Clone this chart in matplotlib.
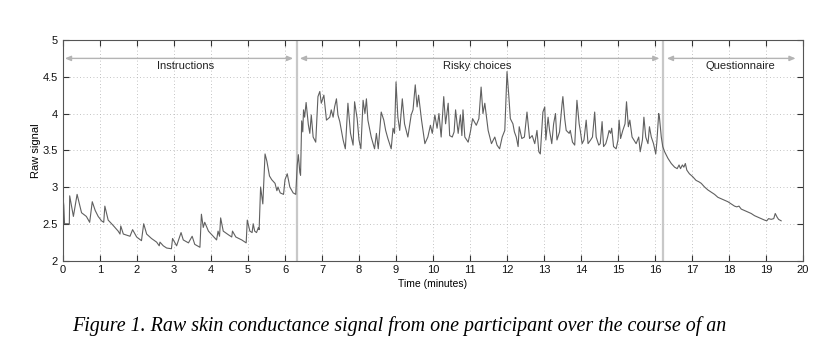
import matplotlib
matplotlib.use("Agg")
import matplotlib.pyplot as plt

# Skin conductance trace (time in minutes, raw signal)
time_min = [
    0.00, 0.02, 0.04, 0.17, 0.18, 0.28, 0.38, 0.50, 0.63, 0.72, 0.79, 0.87, 0.95, 1.04, 1.10, 1.13,
    1.22, 1.35, 1.49, 1.54, 1.56, 1.63, 1.81, 1.88, 1.99, 2.12, 2.18, 2.26, 2.39, 2.53, 2.60, 2.62,
    2.71, 2.80, 2.93, 2.96, 3.07, 3.19, 3.25, 3.39, 3.49, 3.56, 3.70, 3.74, 3.79, 3.83, 3.93, 4.06,
    4.15, 4.19, 4.23, 4.26, 4.33, 4.47, 4.56, 4.58, 4.67, 4.83, 4.95, 4.98, 5.05, 5.11, 5.14, 5.18,
    5.23, 5.28, 5.30, 5.34, 5.40, 5.46, 5.51, 5.58, 5.64, 5.73, 5.78, 5.81, 5.87, 5.96, 6.00, 6.06,
    6.13, 6.22, 6.29, 6.33, 6.36, 6.40, 6.42, 6.45, 6.48, 6.50, 6.53, 6.57, 6.60, 6.63, 6.67, 6.71,
    6.76, 6.83, 6.89, 6.94, 6.98, 7.05, 7.12, 7.21, 7.25, 7.30, 7.34, 7.39, 7.43, 7.48, 7.57, 7.63,
    7.70, 7.77, 7.84, 7.88, 7.95, 8.00, 8.05, 8.11, 8.16, 8.20, 8.24, 8.33, 8.42, 8.47, 8.52, 8.60,
    8.67, 8.72, 8.78, 8.87, 8.92, 8.96, 9.00, 9.05, 9.10, 9.17, 9.23, 9.32, 9.41, 9.46, 9.52, 9.57,
    9.61, 9.69, 9.78, 9.86, 9.93, 9.98, 10.05, 10.11, 10.16, 10.22, 10.29, 10.34, 10.41, 10.45, 10.52, 10.57,
    10.61, 10.68, 10.74, 10.78, 10.81, 10.86, 10.95, 11.01, 11.07, 11.17, 11.24, 11.30, 11.35, 11.40, 11.49, 11.58,
    11.67, 11.73, 11.80, 11.87, 11.94, 12.00, 12.05, 12.09, 12.16, 12.20, 12.25, 12.30, 12.33, 12.40, 12.47, 12.54,
    12.61, 12.68, 12.75, 12.81, 12.86, 12.90, 12.97, 13.02, 13.05, 13.11, 13.15, 13.21, 13.26, 13.31, 13.35, 13.42,
    13.49, 13.51, 13.56, 13.60, 13.68, 13.71, 13.77, 13.83, 13.89, 13.95, 13.98, 14.03, 14.08, 14.14, 14.19, 14.26,
    14.31, 14.37, 14.41, 14.48, 14.52, 14.57, 14.61, 14.67, 14.72, 14.76, 14.80, 14.83, 14.88, 14.95, 15.00, 15.03,
    15.07, 15.13, 15.19, 15.23, 15.28, 15.32, 15.38, 15.43, 15.49, 15.56, 15.60, 15.66, 15.70, 15.75, 15.81, 15.85,
    15.90, 15.96, 16.02, 16.05, 16.10, 16.12, 16.17, 16.21, 16.26, 16.35, 16.44, 16.53, 16.60, 16.65, 16.69, 16.74,
    16.78, 16.82, 16.86, 16.93, 17.02, 17.11, 17.19, 17.25, 17.34, 17.43, 17.52, 17.61, 17.70, 17.79, 17.88, 17.97,
    18.06, 18.15, 18.21, 18.27, 18.33, 18.42, 18.51, 18.60, 18.69, 18.78, 18.87, 18.96, 19.02, 19.07, 19.14, 19.21,
    19.25, 19.30, 19.34, 19.41,
]
raw_signal = [
    2.85, 2.75, 2.50, 2.50, 2.88, 2.60, 2.90, 2.65, 2.60, 2.52, 2.80, 2.68, 2.60, 2.54, 2.52, 2.74,
    2.55, 2.48, 2.40, 2.36, 2.47, 2.36, 2.33, 2.42, 2.32, 2.27, 2.50, 2.36, 2.30, 2.25, 2.20, 2.25,
    2.20, 2.17, 2.16, 2.30, 2.20, 2.38, 2.28, 2.24, 2.33, 2.22, 2.18, 2.63, 2.45, 2.52, 2.40, 2.33,
    2.28, 2.40, 2.33, 2.58, 2.40, 2.35, 2.32, 2.40, 2.32, 2.28, 2.24, 2.55, 2.40, 2.38, 2.50, 2.40,
    2.38, 2.45, 2.42, 3.00, 2.77, 3.45, 3.35, 3.15, 3.10, 3.05, 2.95, 3.00, 2.92, 2.90, 3.10, 3.18,
    3.00, 2.92, 2.90, 3.30, 3.44, 3.20, 3.16, 3.90, 3.75, 4.05, 3.95, 4.15, 4.00, 3.85, 3.73, 3.98,
    3.68, 3.61, 4.23, 4.30, 4.14, 4.25, 3.91, 3.95, 4.05, 3.95, 4.09, 4.20, 3.98, 3.89, 3.64, 3.52,
    4.14, 3.73, 3.57, 4.16, 3.93, 3.64, 3.52, 4.18, 4.00, 4.20, 3.91, 3.68, 3.52, 3.73, 3.52, 4.02,
    3.91, 3.77, 3.66, 3.52, 3.80, 3.73, 4.43, 3.95, 3.77, 4.20, 3.86, 3.68, 3.98, 4.05, 4.39, 4.09,
    4.25, 3.91, 3.59, 3.68, 3.84, 3.73, 3.98, 3.80, 4.00, 3.68, 4.23, 3.86, 4.14, 3.70, 3.68, 3.75,
    4.05, 3.73, 3.98, 3.70, 4.05, 3.68, 3.61, 3.75, 3.93, 3.84, 3.93, 4.36, 4.00, 4.14, 3.77, 3.59,
    3.68, 3.57, 3.52, 3.68, 3.77, 4.57, 4.23, 3.93, 3.86, 3.75, 3.68, 3.55, 3.82, 3.66, 3.68, 4.02,
    3.66, 3.70, 3.59, 3.77, 3.48, 3.45, 4.02, 4.09, 3.64, 3.95, 3.77, 3.59, 3.86, 4.00, 3.64, 3.75,
    4.14, 4.23, 3.93, 3.77, 3.73, 3.77, 3.61, 3.57, 4.18, 3.86, 3.77, 3.59, 3.64, 3.91, 3.59, 3.64,
    3.68, 4.02, 3.68, 3.57, 3.59, 3.89, 3.55, 3.59, 3.68, 3.77, 3.73, 3.80, 3.55, 3.52, 3.64, 3.91,
    3.66, 3.77, 3.86, 4.16, 3.82, 3.91, 3.68, 3.64, 3.59, 3.68, 3.48, 3.64, 3.95, 3.68, 3.59, 3.82,
    3.68, 3.59, 3.45, 3.61, 4.00, 3.95, 3.68, 3.55, 3.48, 3.39, 3.32, 3.27, 3.25, 3.30, 3.25, 3.30,
    3.27, 3.32, 3.23, 3.18, 3.14, 3.09, 3.07, 3.05, 3.00, 2.96, 2.93, 2.90, 2.86, 2.84, 2.82, 2.80,
    2.77, 2.74, 2.73, 2.74, 2.70, 2.68, 2.66, 2.64, 2.61, 2.59, 2.57, 2.55, 2.54, 2.57, 2.56, 2.57,
    2.64, 2.59, 2.56, 2.54,
]

# Experiment phases: label, arrow extent, label position
phase_names = ["Instructions", "Risky choices", "Questionnaire"]
phase_starts = [0.05, 6.40, 16.32]
phase_ends = [6.22, 16.12, 19.80]
phase_label_x = [3.3, 11.2, 18.3]
phase_boundaries = [6.32, 16.22]

x_ticks = list(range(0, 21))
y_ticks = [2, 2.5, 3, 3.5, 4, 4.5, 5]

plt.rcParams["font.family"] = ["Liberation Sans", "DejaVu Sans"]

fig = plt.figure(figsize=(8.24, 3.48), dpi=100)
ax = fig.add_axes([0.0765, 0.2514, 0.898, 0.6336])

ax.plot(time_min, raw_signal, color="#606060", lw=0.8, zorder=3)

for b in phase_boundaries:
    ax.axvline(b, color="#c8c8c8", lw=1.6, zorder=2)

for name, s, e, lx in zip(phase_names, phase_starts, phase_ends, phase_label_x):
    ax.annotate("", xy=(e, 4.75), xytext=(s, 4.75),
                arrowprops=dict(arrowstyle="<|-|>,head_length=0.35,head_width=0.15",
                                color="#b4b4b4", lw=1.0, shrinkA=0, shrinkB=0))
    ax.text(lx, 4.64, name, ha="center", va="center", fontsize=8, color="#222222")

ax.set_xlim(0, 20)
ax.set_ylim(2, 5)
ax.set_xticks(x_ticks)
ax.set_yticks(y_ticks)
ax.set_yticklabels(["2", "2.5", "3", "3.5", "4", "4.5", "5"])
ax.grid(True, linestyle=(0, (1, 3)), color="#b0b0b0", lw=0.6)
ax.tick_params(direction="in", top=True, right=True, length=4, width=0.8,
               labelsize=8, colors="#333333", labelcolor="#111111", pad=3.5)
for sp in ax.spines.values():
    sp.set_color("#555555")
    sp.set_linewidth(0.8)

ax.set_xlabel("Time (minutes)", fontsize=7.5, labelpad=2.5)
ax.set_ylabel("Raw signal", fontsize=8, labelpad=1)

fig.text(0.087, 0.063, "Figure 1. Raw skin conductance signal from one participant over the course of an",
         fontsize=14.4, family=["Liberation Serif"], style="italic", ha="left", va="center")

fig.savefig("out.png", dpi=100)
